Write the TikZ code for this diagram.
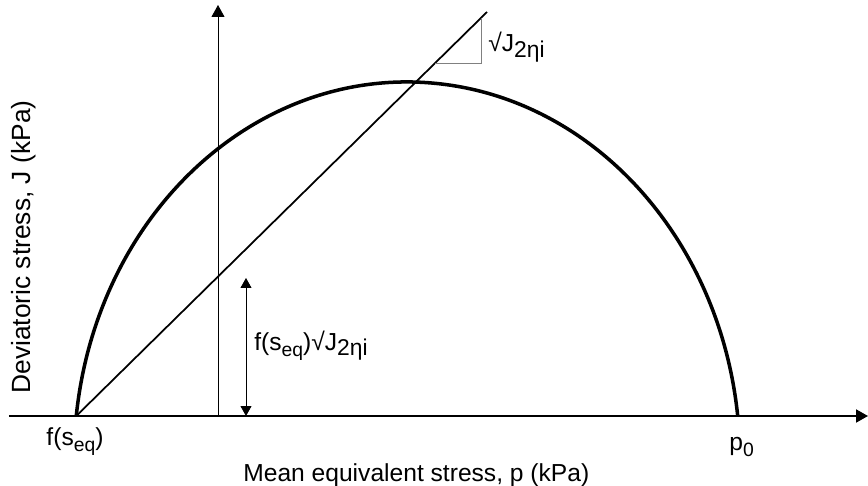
\documentclass[tikz,border=0pt]{standalone}
\usepackage{fontspec}
\setmainfont{Liberation Sans}
\usetikzlibrary{arrows.meta, positioning, calc}

\newcommand{\lowsub}[1]{\raisebox{-0.5ex}{\fontsize{11}{11}\selectfont #1}}
\newcommand{\bigsub}[1]{\raisebox{-0.45ex}{\fontsize{13}{13}\selectfont #1}}

\begin{document}
\begin{tikzpicture}[>={Triangle[length=0.24cm, width=0.26cm]},
    lbl/.style={font=\fontsize{14}{16}\selectfont, inner sep=0pt},
    yieldline/.style={line width=2pt},
    thinline/.style={line width=0.5pt}]
    \useasboundingbox (0,0) rectangle (17.36,9.70);

    % Axes
    \coordinate (xs) at (0.18,1.38);
    \coordinate (xe) at (17.36,1.38);
    \coordinate (ys) at (4.36,1.38);
    \coordinate (ye) at (4.36,9.60);
    \draw[line width=1.1pt, ->] (xs) -- (xe);
    \draw[thinline, ->] (ys) -- (ye);

    % Yield surface
    \coordinate (O) at (1.525,1.38);
    \coordinate (P) at (14.755,1.38);
    \draw[yieldline] (O) arc[start angle=173.32, end angle=6.68, x radius=6.66, y radius=7.56];

    % Line from f(s_eq) and slope triangle
    \coordinate (T) at (9.74,9.46);
    \draw[line width=1pt] (O) -- (T);
    \coordinate (tA) at ($(O)!0.8738!(T)$);
    \coordinate (tB) at ($(O)!0.9854!(T)$);
    \draw[thinline, gray] (tA) -| (tB);

    % Intercept arrow
    \coordinate (da) at (4.92,4.14);
    \coordinate (db) at (4.92,1.38);
    \draw[thinline, <->, >={Triangle[length=0.2cm, width=0.22cm]}] (da) -- (db);

    % Labels
    \node[lbl, anchor=base west] (slope) at (9.76,8.66) {√J\bigsub{2ηi}};
    \node[lbl, anchor=base west] (icpt) at (5.08,2.7) {f(s\lowsub{eq})√J\bigsub{2ηi}};
    \node[lbl, anchor=base] (fseq) at (1.5,0.80) {f(s\lowsub{eq})};
    \node[lbl, anchor=base west] (pzero) at (14.58,0.70) {p\lowsub{0}};
    \node[lbl, anchor=base west] (xlab) at (4.86,0.08) {Mean equivalent stress, p (kPa)};
    \node[lbl, font=\fontsize{15}{17}\selectfont, rotate=90] (ylab) at (0.48,4.76) {Deviatoric stress, J (kPa)};

\end{tikzpicture}
\end{document}
